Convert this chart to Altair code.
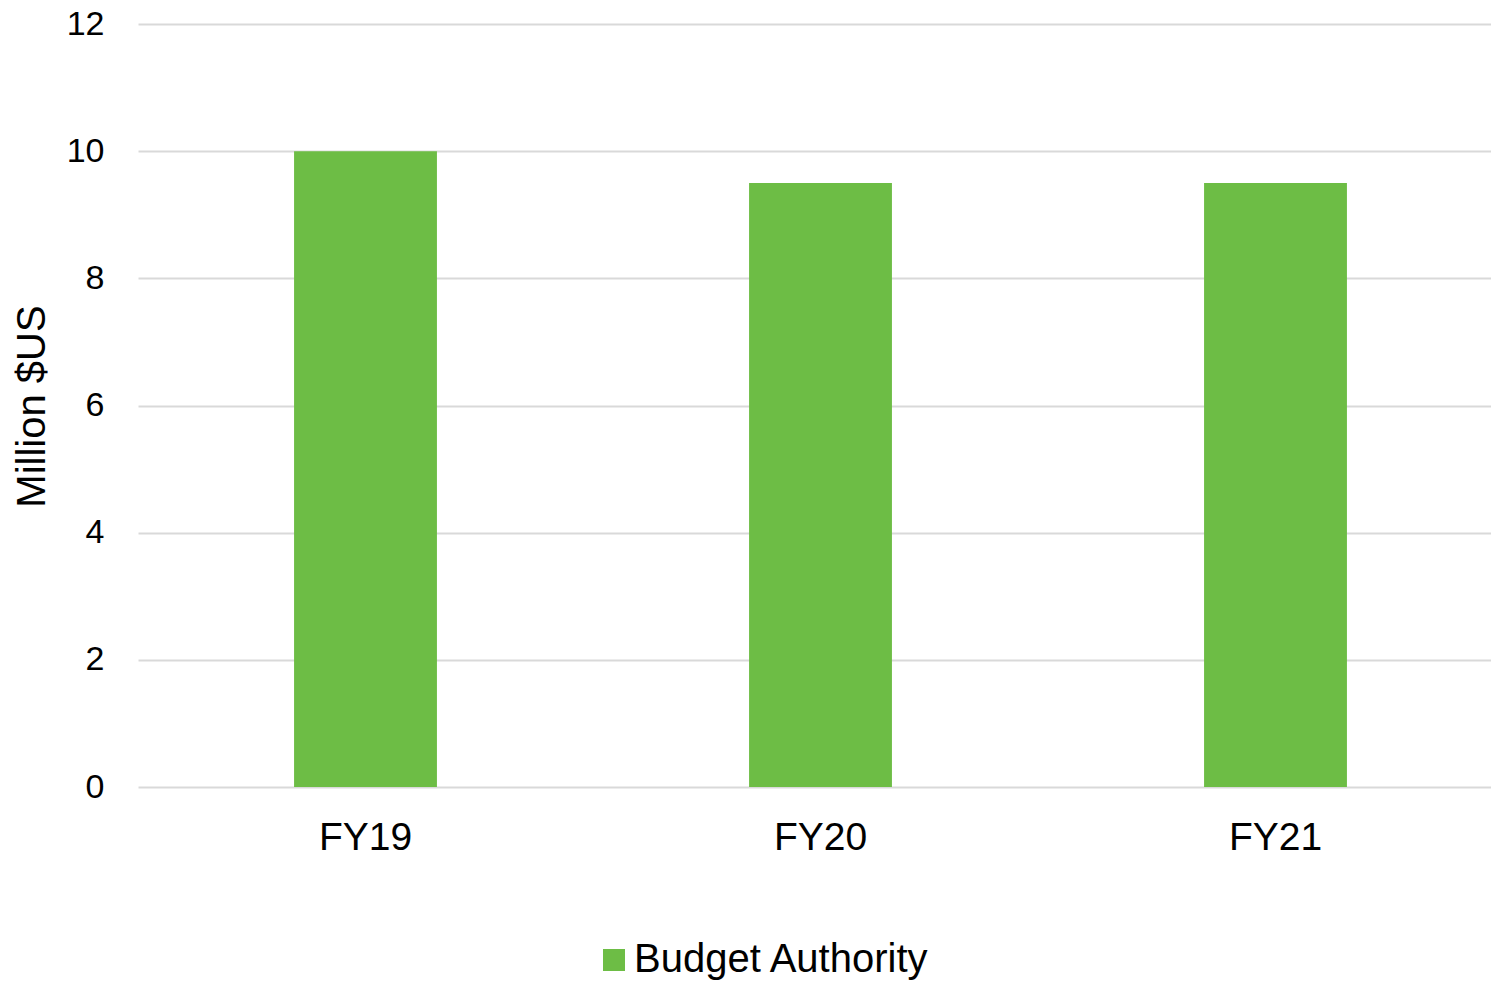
import altair as alt
import pandas as pd

years = ["FY19", "FY20", "FY21"]
budget = [10.0, 9.5, 9.5]
series = ["Budget Authority"] * 3
y_ticks = [0, 2, 4, 6, 8, 10, 12]

df = pd.DataFrame({"year": years, "value": budget, "series": series})

FONT = "Liberation Sans"

chart = alt.Chart(df).mark_bar(color="#6DBD45").encode(
    x=alt.X("year:N", sort=years,
            scale=alt.Scale(range=[0, 1365], paddingInner=0.686, paddingOuter=0.343),
            axis=alt.Axis(title=None, labelAngle=0, labelFontSize=39, labelFont=FONT,
                          labelColor="#000000", labelPadding=31, ticks=False, tickSize=0,
                          domain=False, grid=False)),
    y=alt.Y("value:Q", scale=alt.Scale(domain=[0, 12], nice=False),
            axis=alt.Axis(title="Million $US", values=y_ticks, labelFontSize=34,
                          labelFont=FONT, labelColor="#000000", labelPadding=34,
                          ticks=False, tickSize=0, domain=False,
                          gridColor="#d9d9d9", gridWidth=2,
                          titleFontSize=40, titleFont=FONT, titleFontWeight="normal",
                          titleColor="#000000", titleX=-106, titleY=382,
                          titleAngle=-90, titleAlign="center", titleBaseline="middle")),
    color=alt.Color("series:N", scale=alt.Scale(range=["#6DBD45"]),
                    legend=alt.Legend(title=None, orient="none", legendX=456, legendY=916,
                                      padding=0, symbolType="square", symbolSize=484,
                                      symbolStrokeWidth=0, labelFontSize=40,
                                      labelFont=FONT, labelColor="#000000", labelLimit=0,
                                      labelOffset=0, direction="horizontal")),
).properties(
    width=1353, height=763,
    autosize=alt.AutoSizeParams(type="none"),
    padding={"left": 138, "top": 24, "right": 0, "bottom": 194},
).configure_view(stroke=None)

chart.save("out.html", embed_options={"renderer": "svg", "actions": False})
